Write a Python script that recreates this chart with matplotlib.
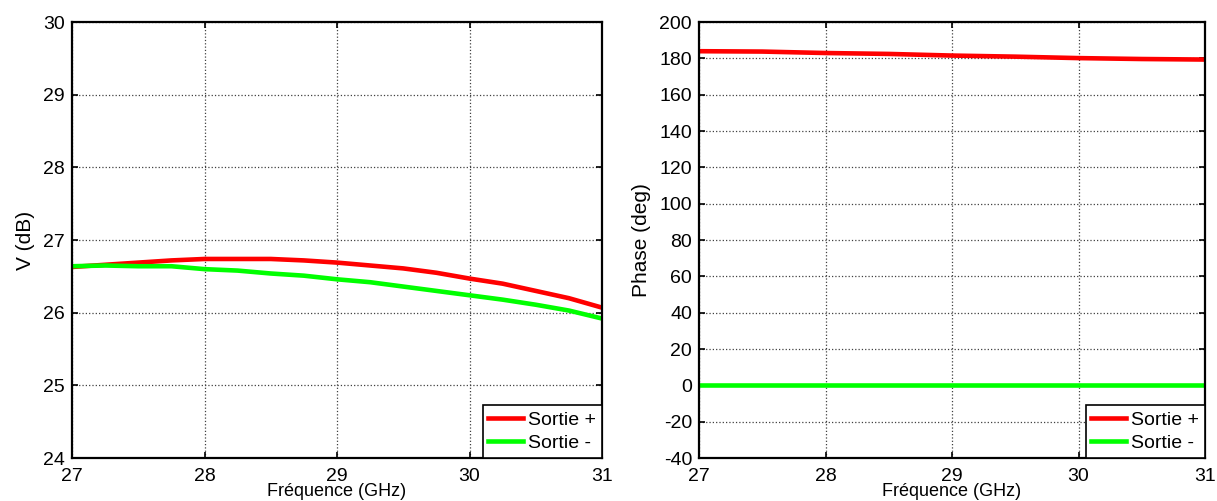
import numpy as np
import matplotlib.pyplot as plt

plt.rcParams['font.family'] = ['Liberation Sans', 'DejaVu Sans']
plt.rcParams['axes.unicode_minus'] = False

# ─── Données ──────────────────────────────────────────────────────────────────
freq = [27.0, 27.25, 27.5, 27.75, 28.0, 28.25, 28.5, 28.75, 29.0,
        29.25, 29.5, 29.75, 30.0, 30.25, 30.5, 30.75, 31.0]
gain_plus = [26.63, 26.66, 26.69, 26.72, 26.74, 26.74, 26.74, 26.72, 26.69,
             26.65, 26.61, 26.55, 26.47, 26.40, 26.30, 26.20, 26.07]
gain_moins = [26.64, 26.65, 26.64, 26.64, 26.60, 26.58, 26.54, 26.51, 26.46,
              26.42, 26.36, 26.30, 26.24, 26.18, 26.11, 26.03, 25.92]

freq_ph = [27.0, 27.5, 28.0, 28.5, 29.0, 29.5, 30.0, 30.5, 31.0]
phase_plus = [184.0, 183.8, 183.0, 182.5, 181.6, 181.0, 180.2, 179.7, 179.4]
phase_moins = [0, 0, 0, 0, 0, 0, 0, 0, 0]

labels = ["Sortie +", "Sortie -"]
couleurs = ["#ff0000", "#00ff00"]


def style_axes(ax, ylabel, yticks):
    ax.set_xlim(27, 31)
    ax.set_xticks([27, 28, 29, 30, 31])
    ax.set_ylim(yticks[0], yticks[-1])
    ax.set_yticks(yticks)
    ax.grid(True, linestyle=':', color='0.25', linewidth=0.9)
    ax.tick_params(direction='in', top=True, right=True, length=4,
                   width=1.2, labelsize=14, pad=5)
    ax.tick_params(axis='x', pad=7)
    for sp in ax.spines.values():
        sp.set_linewidth(1.6)
    ax.set_xlabel("Fréquence (GHz)", fontsize=13, labelpad=-1)
    ax.set_ylabel(ylabel, fontsize=15, labelpad=6)
    leg = ax.legend(labels, loc='lower right', fontsize=14, fancybox=False,
                    framealpha=1, edgecolor='black', borderaxespad=0,
                    handlelength=1.8, handletextpad=0.25, borderpad=0.3,
                    labelspacing=0.3)
    leg.get_frame().set_linewidth(1.2)


fig = plt.figure(figsize=(12.17, 5.01), dpi=100)
ax1 = fig.add_axes([0.0592, 0.0858, 0.4355, 0.870])
ax2 = fig.add_axes([0.5744, 0.0858, 0.4158, 0.870])

ax1.plot(freq, gain_plus, color=couleurs[0], linewidth=3.3)
ax1.plot(freq, gain_moins, color=couleurs[1], linewidth=3.3)
style_axes(ax1, "V (dB)", [24, 25, 26, 27, 28, 29, 30])

ax2.plot(freq_ph, phase_plus, color=couleurs[0], linewidth=3.3)
ax2.plot(freq_ph, phase_moins, color=couleurs[1], linewidth=3.3)
style_axes(ax2, "Phase (deg)", list(range(-40, 201, 20)))

fig.savefig("out.png", dpi=100)
